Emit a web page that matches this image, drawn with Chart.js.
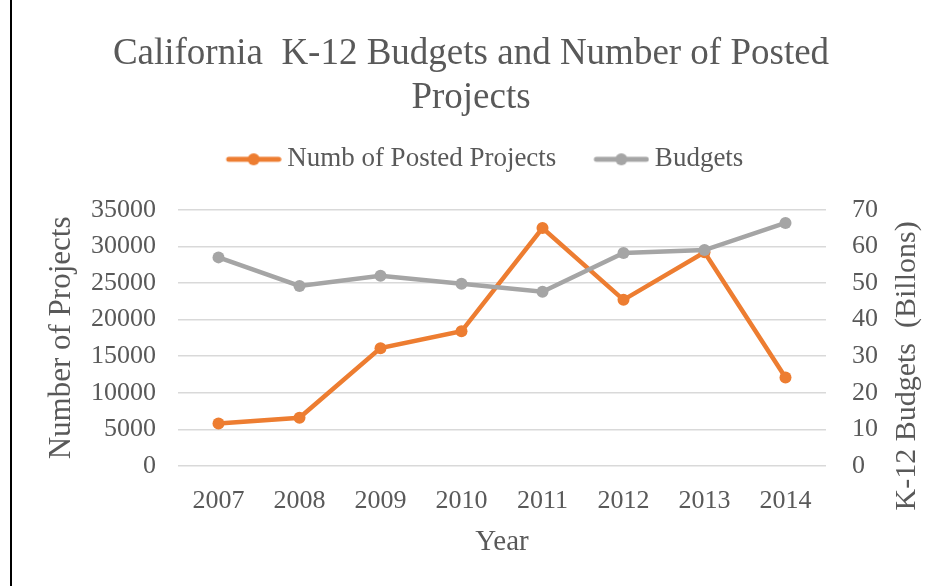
<!DOCTYPE html>
<html>
<head>
<meta charset="utf-8">
<script src="https://cdn.jsdelivr.net/npm/chart.js@4.4.0/dist/chart.umd.min.js"></script>
<style>
  html, body { margin: 0; padding: 0; background: #fff; }
  #wrap { position: relative; width: 942px; height: 586px; }
  #edge { position: absolute; left: 10px; top: 0; width: 2px; height: 586px; background: #000; }
  canvas { position: absolute; left: 0; top: 0; }
</style>
</head>
<body>
<div id="wrap">
  <canvas id="myCanvas" width="942" height="586"></canvas>
  <div id="edge"></div>
</div>
<script>
const years = ['2007', '2008', '2009', '2010', '2011', '2012', '2013', '2014'];
const postedProjects = [5800, 6600, 16100, 18400, 32500, 22700, 29200, 12100];
const budgets = [57.0, 49.2, 52.0, 49.8, 47.6, 58.2, 59.0, 66.4];

const textColor = '#595959';
const serif = '"Liberation Serif", "Times New Roman", serif';
const orange = '#ed7d31';
const gray = '#a5a5a5';

// line-with-dot legend symbol; the empty left part spaces the items apart
function legendMark(color) {
  const c = document.createElement('canvas');
  c.width = 91; c.height = 14;
  const g = c.getContext('2d');
  g.strokeStyle = color;
  g.lineWidth = 5;
  g.lineCap = 'round';
  g.beginPath(); g.moveTo(38, 7); g.lineTo(88, 7); g.stroke();
  g.fillStyle = color;
  g.beginPath(); g.arc(63, 7, 6, 0, Math.PI * 2); g.fill();
  return c;
}

// extra room under the legend
const legendGap = {
  id: 'legendGap',
  beforeInit(chart) {
    const fit = chart.legend.fit;
    chart.legend.fit = function () {
      fit.bind(chart.legend)();
      this.height += 27;
    };
  }
};

// right axis title reads bottom-to-top like the left one
const rightTitle = {
  id: 'rightTitle',
  afterDraw(chart) {
    const ctx = chart.ctx;
    const area = chart.chartArea;
    ctx.save();
    ctx.translate(907, (area.top + area.bottom) / 2 + 28);
    ctx.rotate(-Math.PI / 2);
    ctx.font = '30px ' + serif;
    ctx.fillStyle = textColor;
    ctx.textAlign = 'center';
    ctx.textBaseline = 'middle';
    ctx.fillText('K-12 Budgets  (Billons)', 0, 0);
    ctx.restore();
  }
};

const plain = v => String(v);

const canvas = document.getElementById('myCanvas');
new Chart(canvas, {
  type: 'line',
  data: {
    labels: years,
    datasets: [
      {
        label: 'Numb of Posted Projects',
        data: postedProjects,
        yAxisID: 'y',
        borderColor: orange,
        backgroundColor: orange,
        borderWidth: 4.5,
        pointRadius: 6,
        pointBorderWidth: 0,
        tension: 0,
        order: 1
      },
      {
        label: 'Budgets',
        data: budgets,
        yAxisID: 'y1',
        borderColor: gray,
        backgroundColor: gray,
        borderWidth: 4.5,
        pointRadius: 6,
        pointBorderWidth: 0,
        tension: 0,
        order: 0
      }
    ]
  },
  options: {
    responsive: false,
    animation: false,
    layout: { padding: { left: 12, right: 12, top: 32, bottom: 22 } },
    plugins: {
      tooltip: { enabled: false },
      title: {
        display: true,
        text: ['California  K-12 Budgets and Number of Posted', 'Projects'],
        color: textColor,
        font: { family: serif, size: 37, weight: 'normal', lineHeight: 1.2 },
        padding: { top: 0, bottom: 15 }
      },
      legend: {
        display: true,
        labels: {
          usePointStyle: true,
          pointStyleWidth: 75,
          padding: 10,
          color: textColor,
          font: { family: serif, size: 27 },
          generateLabels() {
            return [
              { text: 'Numb of Posted Projects', pointStyle: legendMark(orange), fontColor: textColor, lineWidth: 0, datasetIndex: 0 },
              { text: 'Budgets', pointStyle: legendMark(gray), fontColor: textColor, lineWidth: 0, datasetIndex: 1 }
            ];
          }
        }
      }
    },
    scales: {
      x: {
        offset: true,
        grid: { display: false },
        border: { display: false },
        ticks: { color: textColor, font: { family: serif, size: 26 }, padding: 12, maxRotation: 0, autoSkip: false },
        title: {
          display: true,
          text: 'Year',
          color: textColor,
          font: { family: serif, size: 29 },
          padding: { top: 0, bottom: 4 }
        },
        afterFit(scale) { scale.height = 586 - 466 - 22; }
      },
      y: {
        position: 'left',
        min: 0,
        max: 35000,
        grid: { color: '#d9d9d9', lineWidth: 1.5, drawTicks: false },
        border: { display: false },
        ticks: { stepSize: 5000, autoSkip: false, callback: plain, color: textColor, font: { family: serif, size: 26 }, padding: 22 },
        title: {
          display: true,
          text: 'Number of Projects',
          color: textColor,
          font: { family: serif, size: 31 },
          padding: { top: 31, bottom: 0 }
        },
        afterFit(scale) { scale.width = 178 - 12; }
      },
      y1: {
        position: 'right',
        min: 0,
        max: 70,
        grid: { display: false, drawTicks: false },
        border: { display: false },
        ticks: { stepSize: 10, autoSkip: false, callback: plain, color: textColor, font: { family: serif, size: 26 }, padding: 26 },
        afterFit(scale) { scale.width = 942 - 826 - 12; }
      }
    }
  },
  plugins: [legendGap, rightTitle]
});
</script>
</body>
</html>
